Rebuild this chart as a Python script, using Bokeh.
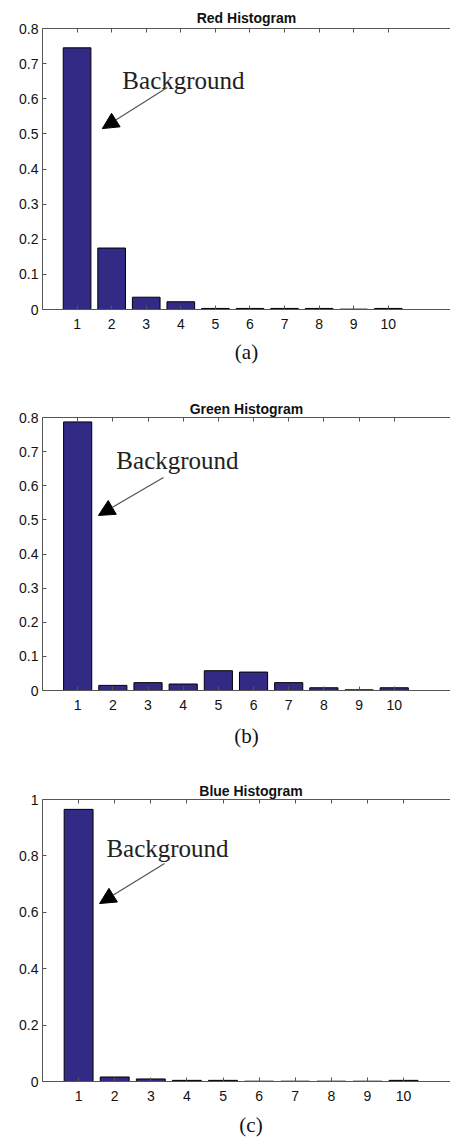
from bokeh.plotting import figure
from bokeh.models import (LinearAxis, FixedTicker, Range1d, Label, Arrow, NormalHead,
                          ColumnDataSource)
from bokeh.layouts import column
from bokeh.embed import file_html
from bokeh.resources import INLINE

categories = [1, 2, 3, 4, 5, 6, 7, 8, 9, 10]
red_values = [0.745, 0.175, 0.035, 0.022, 0.003, 0.003, 0.003, 0.003, 0.001, 0.003]
green_values = [0.787, 0.015, 0.023, 0.019, 0.058, 0.054, 0.023, 0.008, 0.002, 0.008]
blue_values = [0.965, 0.016, 0.009, 0.004, 0.004, 0.001, 0.001, 0.001, 0.001, 0.004]

red_yticks = [0, 0.1, 0.2, 0.3, 0.4, 0.5, 0.6, 0.7, 0.8]
red_ylabels = ["0", "0.1", "0.2", "0.3", "0.4", "0.5", "0.6", "0.7", "0.8"]
green_yticks = [0, 0.1, 0.2, 0.3, 0.4, 0.5, 0.6, 0.7, 0.8]
green_ylabels = ["0", "0.1", "0.2", "0.3", "0.4", "0.5", "0.6", "0.7", "0.8"]
blue_yticks = [0, 0.2, 0.4, 0.6, 0.8, 1]
blue_ylabels = ["0", "0.2", "0.4", "0.6", "0.8", "1"]
xtick_labels = ["1", "2", "3", "4", "5", "6", "7", "8", "9", "10"]

titles = ["Red Histogram", "Green Histogram", "Blue Histogram"]
captions = ["(a)", "(b)", "(c)"]
annotation_text = "Background"

BAR = "#332a85"
AX = "#555555"
SANS = "Liberation Sans"
SERIF = "Liberation Serif"


def panel(title, values, yticks, ylabels, caption, ymax, xmax, fw, fh,
          left, top, bottom, title_standoff, cap_standoff, text_xy, tail, tip):
    p = figure(frame_width=fw, frame_height=fh, output_backend="svg",
               toolbar_location=None, x_range=Range1d(0, xmax),
               y_range=Range1d(0, ymax), min_border_left=left,
               min_border_right=0, min_border_top=top, min_border_bottom=bottom,
               x_axis_location=None, y_axis_location=None)
    p.outline_line_color = None
    p.grid.visible = False
    p.background_fill_color = "white"
    p.border_fill_color = "white"

    p.title.text = title
    p.title.align = "center"
    p.title.text_font = SANS
    p.title.text_font_style = "bold"
    p.title.text_font_size = "14px"
    p.title.text_color = "#111111"
    p.title.standoff = title_standoff
    p.title.offset = 0

    src = ColumnDataSource(dict(x=categories, top=values))
    p.vbar(x="x", top="top", width=0.8, source=src, fill_color=BAR,
           line_color="black", line_width=1)

    xa = LinearAxis(ticker=FixedTicker(ticks=categories),
                    major_label_overrides={c: l for c, l in zip(categories, xtick_labels)})
    ta = LinearAxis(ticker=FixedTicker(ticks=categories))
    ya = LinearAxis(ticker=FixedTicker(ticks=yticks),
                    major_label_overrides={t: l for t, l in zip(yticks, ylabels)})

    for ax in (xa, ta, ya):
        ax.axis_line_color = AX
        ax.major_tick_line_color = AX
        ax.major_tick_in = 4
        ax.major_tick_out = 0
        ax.minor_tick_line_color = None
        ax.major_label_text_font = SANS
        ax.major_label_text_font_size = "14px"
        ax.major_label_text_color = "#111111"

    xa.axis_label = caption
    xa.axis_label_text_font = SERIF
    xa.axis_label_text_font_style = "normal"
    xa.axis_label_text_font_size = "21px"
    xa.axis_label_text_color = "#111111"
    xa.axis_label_standoff = cap_standoff
    xa.major_label_standoff = 9
    p.add_layout(xa, "below")

    ta.major_label_text_font_size = "0px"
    ta.major_label_text_alpha = 0
    ta.major_label_standoff = 0
    p.add_layout(ta, "above")

    ya.major_label_standoff = 4
    p.add_layout(ya, "left")

    p.add_layout(Label(x=text_xy[0], y=text_xy[1], text=annotation_text,
                       text_font=SERIF, text_font_size="25px",
                       text_color="#222222", text_baseline="alphabetic"))
    p.add_layout(Arrow(x_start=tail[0], y_start=tail[1], x_end=tip[0], y_end=tip[1],
                       line_color="#555555", line_width=1.2,
                       end=NormalHead(size=16, fill_color="black",
                                      line_color="black")))
    return p


p1 = panel(titles[0], red_values, red_yticks, red_ylabels, captions[0], 0.8, 11.8,
           408, 281, 42, 28, 88, 5, 8, (2.31, 0.652), (3.61, 0.632), (1.73, 0.515))
p2 = panel(titles[1], green_values, green_yticks, green_ylabels, captions[1], 0.8, 11.6,
           408, 273, 42, 20, 89, 2, 11, (2.10, 0.674), (3.44, 0.624), (1.59, 0.513))
p3 = panel(titles[2], blue_values, blue_yticks, blue_ylabels, captions[2], 1.0, 11.55,
           417, 282, 33, 20, 58, 2, 9, (1.77, 0.826), (3.38, 0.773), (1.58, 0.631))

p = column(p1, p2, p3, spacing=0)
open("out.html", "w").write(file_html(p, INLINE))
